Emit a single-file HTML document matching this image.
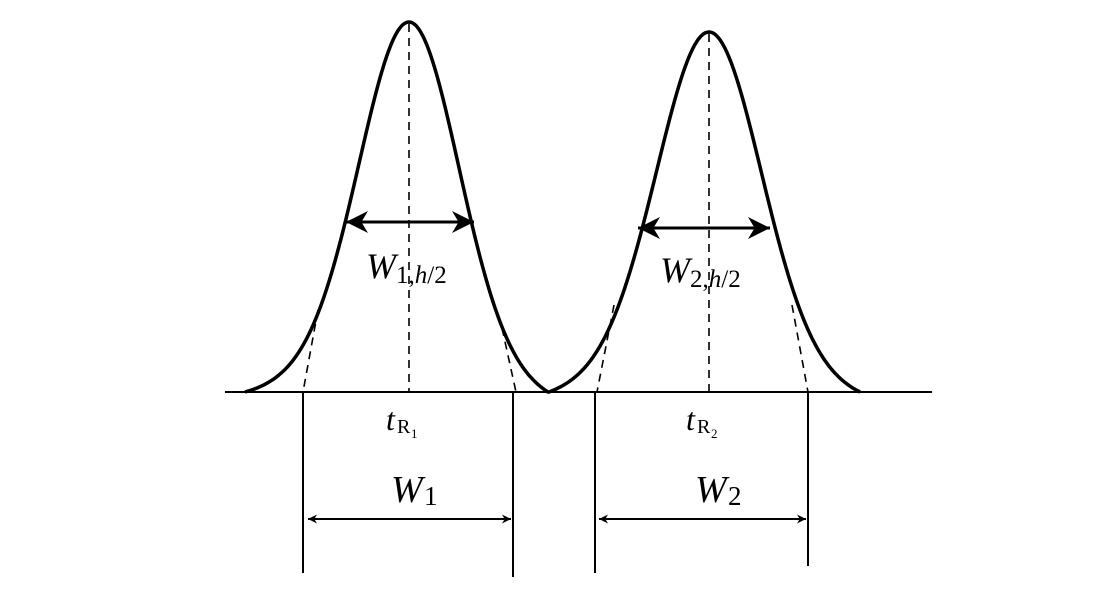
<!DOCTYPE html>
<html><head><meta charset="utf-8"><style>
html,body{margin:0;padding:0;background:#fff;}
svg{display:block}
text{font-family:"Liberation Serif",serif;fill:#000}
</style></head><body>
<svg id="s" width="1117" height="591" viewBox="0 0 1117 591">
<defs>
<marker id="a" viewBox="0 0 10 10" refX="10" refY="5" markerWidth="12" markerHeight="9" orient="auto-start-reverse" markerUnits="userSpaceOnUse"><path d="M0,0 L10,5 L0,10 L3,5 Z" fill="#000"/></marker>
<marker id="b" viewBox="0 0 10 10" refX="10" refY="5" markerWidth="26" markerHeight="22" orient="auto-start-reverse" markerUnits="userSpaceOnUse"><path d="M0,0 L10,5 L0,10 L3,5 Z" fill="#000"/></marker>
</defs>
<line x1="225" y1="392" x2="932" y2="392" stroke="#000" stroke-width="2"/>
<path id="c" fill="none" stroke="#000" stroke-width="3.5"/>
<g stroke="#000" stroke-width="1.6" stroke-dasharray="8,6" fill="none">
<line x1="409" y1="24" x2="409" y2="392"/>
<line x1="709" y1="34" x2="709" y2="392"/>
<line x1="318" y1="310" x2="303" y2="392"/>
<line x1="502" y1="328" x2="516" y2="392"/>
<line x1="614" y1="305" x2="597" y2="392"/>
<line x1="792" y1="305" x2="808" y2="392"/>
</g>
<g stroke="#000" stroke-width="2">
<line x1="303" y1="392" x2="303" y2="573"/>
<line x1="513" y1="392" x2="513" y2="577"/>
<line x1="595" y1="392" x2="595" y2="573"/>
<line x1="808" y1="392" x2="808" y2="566"/>
<line x1="308" y1="519" x2="511" y2="519" marker-start="url(#a)" marker-end="url(#a)"/>
<line x1="599" y1="519" x2="806" y2="519" marker-start="url(#a)" marker-end="url(#a)"/>
</g>
<g stroke="#000" stroke-width="3">
<line x1="346" y1="222" x2="474" y2="222" marker-start="url(#b)" marker-end="url(#b)"/>
<line x1="638" y1="228" x2="770" y2="228" marker-start="url(#b)" marker-end="url(#b)"/>
</g>
<text x="366" y="278" font-size="36" font-style="italic">W</text><text x="396" y="283" font-size="25">1,<tspan font-style="italic">h</tspan>/2</text>
<text x="660" y="282" font-size="36" font-style="italic">W</text><text x="690" y="287" font-size="25">2,<tspan font-style="italic">h</tspan>/2</text>
<text x="386" y="430" font-size="32" font-style="italic">t</text><text x="397" y="433" font-size="20">R</text><text x="411" y="438" font-size="13">1</text>
<text x="686" y="430" font-size="32" font-style="italic">t</text><text x="697" y="433" font-size="20">R</text><text x="711" y="438" font-size="13">2</text>
<text x="391" y="502" font-size="38" font-style="italic">W</text><text x="424" y="505" font-size="27">1</text>
<text x="695" y="502" font-size="38" font-style="italic">W</text><text x="728" y="505" font-size="27">2</text>
</svg>
<script>
function G(d,s){return Math.exp(-d*d/(2*s*s));}
function f(d,k){return 0.8*G(d,47*k)+0.2*G(d,75*k);}
function seg(c,top,L,R,k){var p=[];var base=392,h=base-top;
for(var x=L;x<=R;x+=1){var d=x-c;var ext=d<0?c-L:R-c;var e0=f(ext,k);
var g=(f(d,k)-e0)/(1-e0);p.push([x,base-h*g]);}return p;}
var p=seg(409,22,245,548,1.02).concat(seg(709,32,549,860,1.07));
document.getElementById('c').setAttribute('d','M'+p.map(function(q){return q[0]+','+q[1].toFixed(1)}).join(' L'));
</script>
</body></html>
